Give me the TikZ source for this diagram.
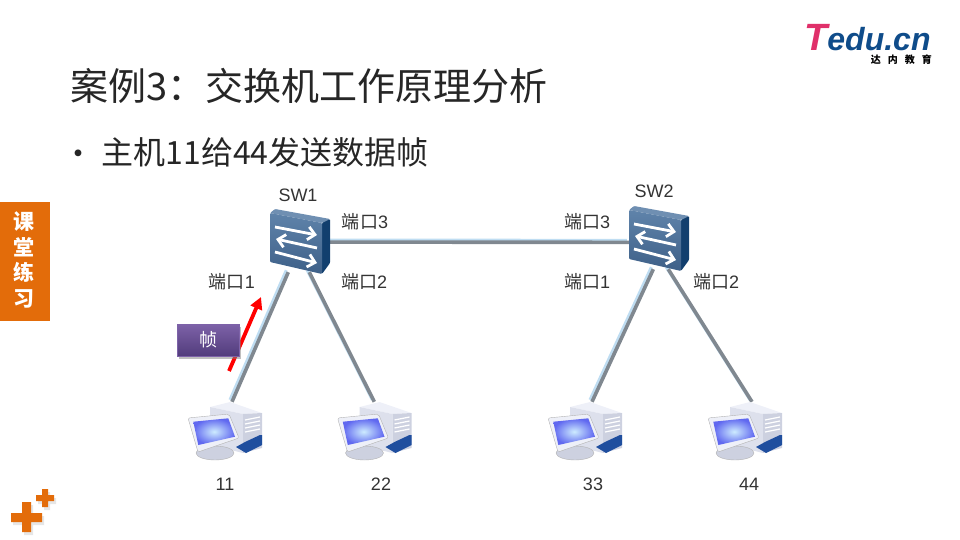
\documentclass[tikz,border=0pt]{standalone}
\usepackage{fontspec}
\setmainfont{Liberation Sans}
\newfontfamily\cjk{Noto Sans CJK SC}
\usepackage{tikz}
\usetikzlibrary{arrows.meta}
\usetikzlibrary{shadows}
\definecolor{orangebar}{HTML}{E36C0A}
\definecolor{linkcore}{HTML}{808890}
\definecolor{linkglow}{HTML}{BFDDF2}
\definecolor{inktext}{HTML}{262626}
\definecolor{porttext}{HTML}{333333}
\definecolor{logoblue}{HTML}{0F4C8A}
\definecolor{logopink}{HTML}{E0306A}
\definecolor{swtop}{HTML}{6F8FB2}
\definecolor{swside}{HTML}{123F6E}
\definecolor{swhigh}{HTML}{5F83AA}
\definecolor{swlow}{HTML}{3E6088}
\definecolor{towertop}{HTML}{EEF0F8}
\definecolor{towerleft}{HTML}{DDE0EC}
\definecolor{towerfront}{HTML}{CDD1E0}
\definecolor{towerblue}{HTML}{1F4E9E}
\definecolor{screenout}{HTML}{6068F0}
\definecolor{screenin}{HTML}{CDEBFF}
\definecolor{framehigh}{HTML}{7D62A8}
\definecolor{framelow}{HTML}{523C7C}
\tikzset{
  swbox/.style={inner sep=0,minimum width=60,minimum height=64},
  hostbox/.style={inner sep=0,minimum width=14,minimum height=56},
  link/.style={draw=linkcore,line width=3.6pt,preaction={draw=linkglow,line width=3pt,transform canvas={xshift=-2pt,yshift=2pt}}},
  port/.style={font=\fontsize{18}{18}\selectfont,text=porttext},
  orangeplus/.style={fill=orangebar,drop shadow={shadow xshift=2pt,shadow yshift=-3pt,opacity=0.2}},
  swarrow/.style={white,line width=2.8pt,-{Straight Barb[length=7pt,width=13pt]}},
  switchicon/.pic={
    \fill[rounded corners=1pt,fill=swtop] (-30,-27) -- (-25,-31) -- (30,-21) -- (22,-17) -- cycle;
    \fill[rounded corners=1pt,fill=swside] (22,-17) -- (30,-21) -- (30,23) -- (22,34) -- cycle;
    \shade[rounded corners=1pt,top color=swhigh,bottom color=swlow] (-30,-27) -- (22,-17) -- (22,34) -- (-30,22) -- cycle;
    \draw[swarrow] (-25,-13) -- (17,-5);
    \draw[swarrow] (17,8) -- (-24,-1);
    \draw[swarrow] (-25,12) -- (17,23);
  },
  hosticon/.pic={
    \fill[towertop] (-22,-23) -- (-2,-28) -- (30,-17) -- (11,-16) -- cycle;
    \fill[towerleft] (-22,-23) -- (11,-16) -- (11,23) -- (-22,15) -- cycle;
    \fill[towerfront] (11,-16) -- (30,-17) -- (30,18) -- (11,23) -- cycle;
    \foreach \y in {-10,-6,-2,2} \draw[white,line width=1.2pt] (13,\y) -- (28,\y-3);
    \fill[towerblue] (4,17) -- (13,12) -- (28,5) -- (30,5) -- (30,15) -- (14,23) -- cycle;
    \filldraw[draw=gray!60,fill=towerfront] (-17,23) ellipse (19 and 7);
    \filldraw[draw=gray!60,fill=towertop,line join=round,rounded corners=2pt] (-44,-12) -- (-3,-16) -- (7,8) -- (-34,22) -- cycle;
    \shade[inner color=screenin,outer color=screenout] (-38.7,-8.3) -- (-3.7,-11.7) -- (3,6.7) -- (-33.7,15) -- cycle;
  }
}
\begin{document}
\begin{tikzpicture}[x=1pt,y=-1pt]
\useasboundingbox (0,0) rectangle (960,540);

\node[anchor=west,text=inktext,font=\cjk\fontsize{38}{38}\selectfont] (title) at (67,86) {案例3：交换机工作原理分析};
\node[text=inktext,font=\cjk\fontsize{32}{32}\selectfont] (bullet) at (78,158) {•};
\node[anchor=west,text=inktext,font=\cjk\fontsize{32}{32}\selectfont] (subtitle) at (98,152) {主机11给44发送数据帧};

\node[anchor=base west,inner sep=0,font=\bfseries\itshape\fontsize{32}{32}\selectfont] (logo) at (804,50.5) {\textcolor{logopink}{\fontsize{38}{38}\selectfont T}\textcolor{logoblue}{edu.cn}};
\node[anchor=east,inner sep=0,font=\cjk\bfseries\fontsize{10}{10}\selectfont] (logosub) at (932,60) {达\hspace{7pt}内\hspace{7pt}教\hspace{7pt}育};

\node[fill=orangebar,inner sep=0,minimum width=50,minimum height=119] (practice) at (25,261.5) {};
\node[text=white,align=center,font=\cjk\bfseries\fontsize{21}{25.5}\selectfont] (practicetext) at (24,260) {课\\堂\\练\\习};

\fill[orangeplus] (11,513) -- (22,513) -- (22,502) -- (31,502) -- (31,513) -- (42,513) -- (42,522) -- (31,522) -- (31,532) -- (22,532) -- (22,522) -- (11,522) -- cycle;
\fill[orangeplus] (36,495) -- (42,495) -- (42,489) -- (48,489) -- (48,495) -- (54,495) -- (54,501) -- (48,501) -- (48,507) -- (42,507) -- (42,501) -- (36,501) -- cycle;

\node[swbox] (sw1) at (300,240) {};
\node[swbox] (sw2) at (659,237) {};
\node[hostbox] (h11) at (232,430) {};
\node[hostbox] (h22) at (381.5,430) {};
\node[hostbox] (h33) at (592,430) {};
\node[hostbox] (h44) at (752,430) {};

\draw[link] (sw1.-4) -- (sw2.190);
\draw[link] (sw1.-110) -- (h11.north);
\draw[link] (sw1.-74) -- (h22.north west);
\draw[link] (sw2.-100) -- (h33.north);
\draw[link] (sw2.-74) -- (h44.north);

\pic at (sw1) {switchicon};
\pic at (sw2) {switchicon};
\foreach \h in {h11,h22,h33,h44} \pic at (\h) {hosticon};

\node[port] (swname1) at (298,195) {SW1};
\node[port] (swname2) at (654,191) {SW2};
\node[port] (p13) at (365,222) {{\cjk 端口}3};
\node[port] (p11) at (232,282) {{\cjk 端口}1};
\node[port] (p12) at (364,282) {{\cjk 端口}2};
\node[port] (p23) at (587,222) {{\cjk 端口}3};
\node[port] (p21) at (587,282) {{\cjk 端口}1};
\node[port] (p22) at (716,282) {{\cjk 端口}2};
\node[port] (t11) at (225,484) {11};
\node[port] (t22) at (381,484) {22};
\node[port] (t33) at (593,484) {33};
\node[port] (t44) at (749,484) {44};

\coordinate (framefrom) at (229,371);
\coordinate (frameto) at (261,297);
\draw[red,line width=3.8pt,-{Triangle[length=12pt,width=12pt]}] (framefrom) -- (frameto);
\node[inner sep=0,minimum width=62,minimum height=32,text=white,top color=framehigh,bottom color=framelow,draw=framehigh,line width=0.5pt,drop shadow={shadow xshift=2pt,shadow yshift=-3pt,opacity=0.5},font=\cjk\fontsize{18}{18}\selectfont] (frame) at (208,340) {帧};
\end{tikzpicture}
\end{document}
